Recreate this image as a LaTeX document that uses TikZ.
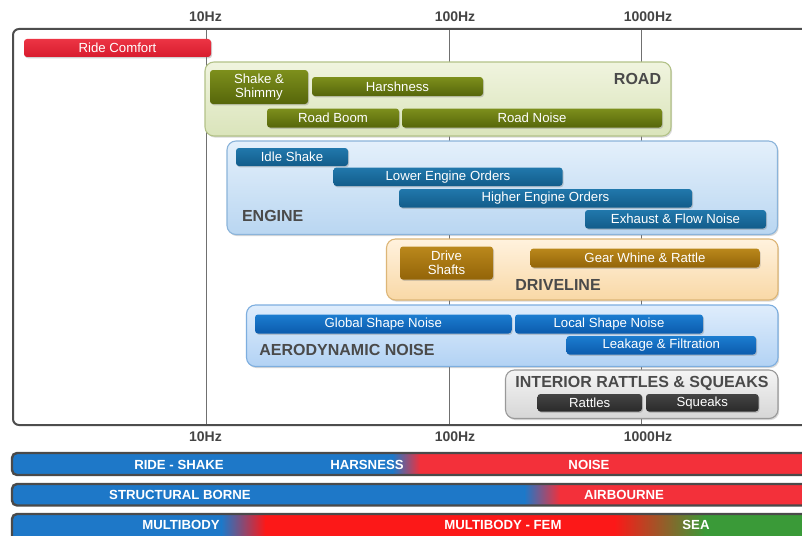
\documentclass[tikz,border=0pt]{standalone}
\usepackage{fontspec}
\setmainfont{Liberation Sans}
\usetikzlibrary{shadows}
\definecolor{framegray}{HTML}{4D4D4D}
\definecolor{gridgray}{HTML}{707070}
\definecolor{axisgray}{HTML}{444444}
\definecolor{titlegray}{HTML}{4A4A4A}
\definecolor{rideA}{HTML}{EC3444}
\definecolor{rideB}{HTML}{D81C2E}
\definecolor{roadA}{HTML}{7D8F1C}
\definecolor{roadB}{HTML}{56660A}
\definecolor{roadGA}{HTML}{F0F4DF}
\definecolor{roadGB}{HTML}{DAE4BA}
\definecolor{roadGD}{HTML}{B3C288}
\definecolor{engA}{HTML}{2178AC}
\definecolor{engB}{HTML}{125C8A}
\definecolor{engGA}{HTML}{E4F0FB}
\definecolor{engGB}{HTML}{B9D6F1}
\definecolor{engGD}{HTML}{8BB4DA}
\definecolor{drvA}{HTML}{BA881C}
\definecolor{drvB}{HTML}{936408}
\definecolor{drvGA}{HTML}{FFF2DE}
\definecolor{drvGB}{HTML}{F9D8A6}
\definecolor{drvGD}{HTML}{DDB677}
\definecolor{aerA}{HTML}{1C7DD0}
\definecolor{aerB}{HTML}{0B5BAD}
\definecolor{aerGA}{HTML}{DFEDFC}
\definecolor{aerGB}{HTML}{B2D2F4}
\definecolor{aerGD}{HTML}{7DAEDF}
\definecolor{intA}{HTML}{444444}
\definecolor{intB}{HTML}{2A2A2A}
\definecolor{intGA}{HTML}{F4F4F4}
\definecolor{intGB}{HTML}{D6D6D6}
\definecolor{intGD}{HTML}{999999}
\definecolor{bandblue}{HTML}{1E78C8}
\definecolor{bandred}{HTML}{F3303A}
\definecolor{bandredB}{HTML}{FC1818}
\definecolor{bandgreen}{HTML}{3A9A38}
\definecolor{bandborder}{HTML}{4A4A4A}
\newcommand\rbarfont{\fontsize{13.2}{14}\selectfont}
\newcommand\rtitlefont{\bfseries\fontsize{16}{17.5}\selectfont}
\newcommand\raxisfont{\bfseries\fontsize{14}{15}\selectfont}
\newcommand\rbandfont{\bfseries\fontsize{13.2}{14}\selectfont}
\tikzset{
  grp/.style={draw, rounded corners=9pt, line width=1.1pt, inner sep=0pt,
    drop shadow={shadow xshift=1.2pt, shadow yshift=-1.6pt, opacity=0.3}},
  bar/.style={rounded corners=3pt, inner sep=0pt, text=white, font=\rbarfont, align=center,
    drop shadow={shadow xshift=1pt, shadow yshift=-1.3pt, opacity=0.35}},
  ridebar/.style={bar, top color=rideA, bottom color=rideB},
  roadbar/.style={bar, top color=roadA, bottom color=roadB},
  engbar/.style={bar, top color=engA, bottom color=engB},
  drvbar/.style={bar, top color=drvA, bottom color=drvB},
  aerbar/.style={bar, top color=aerA, bottom color=aerB},
  intbar/.style={bar, top color=intA, bottom color=intB},
  roadgrp/.style={grp, draw=roadGD, top color=roadGA, bottom color=roadGB},
  enggrp/.style={grp, draw=engGD, top color=engGA, bottom color=engGB},
  drvgrp/.style={grp, draw=drvGD, top color=drvGA, bottom color=drvGB},
  aergrp/.style={grp, draw=aerGD, top color=aerGA, bottom color=aerGB},
  intgrp/.style={grp, draw=intGD, top color=intGA, bottom color=intGB},
  grptitle/.style={font=\rtitlefont, text=titlegray, inner sep=0pt},
  axislbl/.style={font=\raxisfont, text=axisgray, inner sep=0pt},
  bandlbl/.style={font=\rbandfont, text=white, inner sep=0pt},
  gridline/.style={draw=gridgray, line width=0.9pt},
  bandedge/.style={draw=bandborder, line width=2.4pt, rounded corners=5pt},
}
\begin{document}
\begin{tikzpicture}[x=1pt,y=-1pt]
\useasboundingbox (0,0) rectangle (802,535);
\clip (0,0) rectangle (802,535);
\fill[white] (0,0) rectangle (802,535);

% axis labels
\node[axislbl] (t10) at (205.5,17) {10Hz};
\node[axislbl] (t100) at (455,17) {100Hz};
\node[axislbl] (t1000) at (648,17) {1000Hz};
\node[axislbl] (b10) at (205.5,437) {10Hz};
\node[axislbl] (b100) at (455,437) {100Hz};
\node[axislbl] (b1000) at (648,437) {1000Hz};

% grid lines
\coordinate (g10t) at (206,29);   \coordinate (g10b) at (206,425);
\coordinate (g100t) at (449.5,29); \coordinate (g100b) at (449.5,425);
\coordinate (g1kt) at (641.5,29); \coordinate (g1kb) at (641.5,425);
\draw[gridline] (g10t) -- (g10b);
\draw[gridline] (g100t) -- (g100b);
\draw[gridline] (g1kt) -- (g1kb);

% frame
\draw[draw=framegray, line width=2pt, rounded corners=6pt] (13,29) rectangle (812,425);

% groups
\node[roadgrp, minimum width=466pt, minimum height=74pt] (road) at (438,99) {};
\node[enggrp, minimum width=550.5pt, minimum height=93.5pt] (engine) at (502.25,187.75) {};
\node[drvgrp, minimum width=391.5pt, minimum height=61pt] (driveline) at (582.25,269.5) {};
\node[aergrp, minimum width=531.5pt, minimum height=61.5pt] (aero) at (512.25,335.75) {};
\node[intgrp, minimum width=272.5pt, minimum height=48.5pt] (interior) at (641.75,394.25) {};

\node[grptitle] (roadT) at (637.5,79) {ROAD};
\node[grptitle] (engT) at (272.7,216) {ENGINE};
\node[grptitle] (drvT) at (558,285) {DRIVELINE};
\node[grptitle] (aerT) at (347,350) {AERODYNAMIC NOISE};
\node[grptitle] (intT) at (642,383) {INTERIOR RATTLES \& SQUEAKS};

% bars
\node[ridebar, minimum width=187pt, minimum height=18pt] (ride) at (117.5,48) {Ride Comfort};

\node[roadbar, minimum width=98pt, minimum height=34pt] (shake) at (259,87) {Shake \&\\Shimmy};
\node[roadbar, minimum width=171pt, minimum height=19pt] (harsh) at (397.5,86.5) {Harshness};
\node[roadbar, minimum width=132pt, minimum height=19pt] (boom) at (333,118) {Road Boom};
\node[roadbar, minimum width=260pt, minimum height=19pt] (rnoise) at (532,118) {Road Noise};

\node[engbar, minimum width=112pt, minimum height=18pt] (idle) at (292,157) {Idle Shake};
\node[engbar, minimum width=229pt, minimum height=18.5pt] (lower) at (448,176.75) {Lower Engine Orders};
\node[engbar, minimum width=293pt, minimum height=18.5pt] (higher) at (545.5,198.25) {Higher Engine Orders};
\node[engbar, minimum width=181pt, minimum height=18.5pt] (exhaust) at (675.5,219.25) {Exhaust \& Flow Noise};

\node[drvbar, minimum width=93pt, minimum height=33pt] (shafts) at (446.5,263) {Drive\\Shafts};
\node[drvbar, minimum width=229pt, minimum height=19pt] (gear) at (645,258) {Gear Whine \& Rattle};

\node[aerbar, minimum width=256.5pt, minimum height=19pt] (global) at (383.25,324) {Global Shape Noise};
\node[aerbar, minimum width=188pt, minimum height=19pt] (local) at (609,324) {Local Shape Noise};
\node[aerbar, minimum width=189.5pt, minimum height=18.5pt] (leak) at (661.25,345.25) {Leakage \& Filtration};

\node[intbar, minimum width=104.5pt, minimum height=17.5pt] (rattles) at (589.75,402.75) {Rattles};
\node[intbar, minimum width=112.5pt, minimum height=17.5pt] (squeaks) at (702.25,402.75) {Squeaks};

% bottom bands
\begin{scope}
  \clip[rounded corners=5pt] (12,453) rectangle (815,475);
  \fill[bandblue] (12,453) rectangle (393,475);
  \shade[left color=bandblue, right color=bandred] (392.5,453) rectangle (420.5,475);
  \fill[bandred] (420,453) rectangle (815,475);
\end{scope}
\draw[bandedge] (12,453) rectangle (815,475);

\begin{scope}
  \clip[rounded corners=5pt] (12,484) rectangle (815,505.5);
  \fill[bandblue] (12,484) rectangle (525,505.5);
  \shade[left color=bandblue, right color=bandred] (524.5,484) rectangle (560.5,505.5);
  \fill[bandred] (560,484) rectangle (815,505.5);
\end{scope}
\draw[bandedge] (12,484) rectangle (815,505.5);

\begin{scope}
  \clip[rounded corners=5pt] (12,514) rectangle (815,545);
  \fill[bandblue] (12,514) rectangle (222,545);
  \shade[left color=bandblue, right color=bandredB] (221.5,514) rectangle (265.5,545);
  \fill[bandredB] (265,514) rectangle (615,545);
  \shade[left color=bandredB, right color=bandgreen] (614.5,514) rectangle (705.5,545);
  \fill[bandgreen] (705,514) rectangle (815,545);
\end{scope}
\draw[bandedge] (12,514) rectangle (815,545);

\node[bandlbl] (rs) at (179,464.5) {RIDE - SHAKE};
\node[bandlbl] (hs) at (367,464.5) {HARSNESS};
\node[bandlbl] (ns) at (589,464.5) {NOISE};
\node[bandlbl] (sb) at (180,495) {STRUCTURAL BORNE};
\node[bandlbl] (ab) at (624,495) {AIRBOURNE};
\node[bandlbl] (mb) at (181,525) {MULTIBODY};
\node[bandlbl] (mf) at (503,525) {MULTIBODY - FEM};
\node[bandlbl] (sea) at (696,525) {SEA};
\end{tikzpicture}
\end{document}
